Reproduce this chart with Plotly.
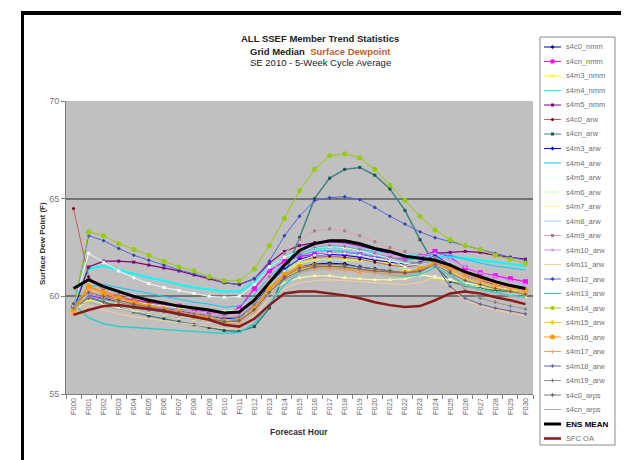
import plotly.graph_objects as go

# ---------------- data ----------------
categories = ["F000", "F001", "F002", "F003", "F004", "F005", "F006", "F007", "F008", "F009",
              "F010", "F011", "F012", "F013", "F014", "F015", "F016", "F017", "F018", "F019",
              "F020", "F021", "F022", "F023", "F024", "F025", "F026", "F027", "F028", "F029", "F030"]

s4c0_nmm = [59.4, 60.1, 59.9, 59.75, 59.6, 59.5, 59.4, 59.25, 59.1, 59.0, 58.85, 58.9, 59.5, 60.4, 61.1,
            61.5, 61.65, 61.7, 61.65, 61.5, 61.4, 61.3, 61.2, 61.3, 61.7, 61.4, 61.0, 60.75, 60.55, 60.4, 60.25]
s4cn_nmm = [59.4, 60.0, 60.0, 59.9, 59.8, 59.7, 59.6, 59.5, 59.3, 59.2, 59.05, 59.4, 60.4, 61.3, 61.8,
            62.05, 62.15, 62.2, 62.2, 62.15, 62.0, 61.95, 61.95, 62.05, 62.3, 62.0, 61.45, 61.2, 61.05, 60.9, 60.75]
s4m3_nmm = [59.3, 59.8, 59.75, 59.65, 59.5, 59.4, 59.3, 59.15, 59.0, 58.9, 58.75, 58.8, 59.5, 60.6, 61.3,
            61.7, 61.85, 61.85, 61.85, 61.85, 61.8, 61.7, 61.4, 61.15, 60.95, 60.8, 60.6, 60.45, 60.35, 60.25, 60.15]
s4m4_nmm = [59.5, 61.4, 61.55, 61.35, 61.15, 60.95, 60.8, 60.6, 60.45, 60.35, 60.25, 60.25, 60.7, 61.5, 62.0,
            62.3, 62.45, 62.5, 62.5, 62.4, 62.3, 62.2, 62.1, 62.05, 62.0, 62.0, 61.95, 61.85, 61.75, 61.65, 61.55]
s4m5_nmm = [59.3, 61.5, 61.8, 61.8, 61.75, 61.6, 61.45, 61.3, 61.1, 60.9, 60.7, 60.6, 60.9, 61.7, 62.3,
            62.6, 62.75, 62.8, 62.75, 62.6, 62.4, 62.2, 62.05, 62.0, 62.2, 62.25, 62.3, 62.25, 62.1, 62.0, 61.9]
s4c0_arw = [64.5, 61.0, 60.3, 60.0, 59.8, 59.65, 59.5, 59.35, 59.2, 59.05, 58.9, 58.95, 59.5, 60.5, 61.3,
            61.8, 62.0, 62.05, 62.0, 61.9, 61.75, 61.6, 61.5, 61.6, 61.9, 61.6, 61.2, 60.95, 60.7, 60.5, 60.3]
s4cn_arw = [59.6, 60.0, 59.7, 59.45, 59.2, 59.0, 58.85, 58.7, 58.55, 58.4, 58.25, 58.2, 58.45, 59.4, 61.1,
            63.0, 65.0, 66.05, 66.5, 66.6, 66.2, 65.5, 64.4, 62.9, 61.6, 60.75, 60.55, 60.4, 60.3, 60.25, 60.2]
s4m3_arw = [59.3, 60.0, 59.85, 59.7, 59.55, 59.45, 59.35, 59.2, 59.1, 58.95, 58.8, 58.85, 59.5, 60.6, 61.4,
            61.9, 62.1, 62.15, 62.1, 62.0, 61.85, 61.75, 61.65, 61.75, 62.1, 61.6, 61.1, 60.85, 60.6, 60.45, 60.3]
s4m4_arw = [59.5, 60.5, 60.6, 60.45, 60.3, 60.15, 60.0, 59.85, 59.7, 59.6, 59.45, 59.5, 60.1, 61.0, 61.7,
            62.1, 62.3, 62.35, 62.3, 62.2, 62.05, 61.95, 61.85, 61.95, 62.2, 62.1, 61.9, 61.7, 61.55, 61.45, 61.35]
s4m5_arw = [59.5, 62.2, 61.75, 61.3, 60.95, 60.65, 60.45, 60.3, 60.15, 60.0, 59.95, 60.0, 60.6, 61.5, 62.0,
            62.3, 62.5, 62.55, 62.5, 62.35, 62.15, 61.95, 61.5, 61.1, 61.0, 60.85, 60.7, 60.55, 60.45, 60.35, 60.25]
s4m6_arw = [59.2, 60.2, 60.0, 59.85, 59.7, 59.6, 59.5, 59.4, 59.35, 59.3, 59.25, 59.3, 59.8, 60.6, 61.3,
            61.8, 62.1, 62.2, 62.2, 62.1, 61.95, 61.8, 61.7, 61.6, 61.9, 61.4, 61.0, 60.75, 60.55, 60.4, 60.25]
s4m7_arw = [59.2, 59.9, 59.6, 59.4, 59.25, 59.1, 59.0, 58.9, 58.8, 58.7, 58.6, 58.7, 59.3, 60.2, 60.7,
            60.95, 61.05, 61.05, 60.95, 60.9, 60.85, 60.85, 60.9, 61.1, 61.6, 61.1, 60.6, 60.35, 60.2, 60.05, 59.95]
s4m8_arw = [59.3, 60.0, 59.8, 59.65, 59.5, 59.4, 59.3, 59.15, 59.05, 58.95, 58.8, 58.85, 59.5, 60.5, 61.2,
            61.6, 61.8, 61.85, 61.8, 61.7, 61.55, 61.45, 61.4, 61.5, 61.8, 61.5, 61.1, 60.85, 60.65, 60.45, 60.3]
s4m9_arw = [59.4, 60.4, 60.25, 60.1, 59.95, 59.8, 59.65, 59.5, 59.35, 59.2, 59.05, 59.1, 59.8, 61.0, 62.2,
            62.9, 63.35, 63.45, 63.35, 63.1, 62.8, 62.5, 62.3, 62.1, 62.0, 61.6, 61.2, 60.95, 60.7, 60.5, 60.35]
s4m10_arw = [59.3, 60.1, 59.95, 59.8, 59.65, 59.55, 59.45, 59.3, 59.2, 59.05, 58.95, 59.0, 59.7, 60.8, 61.7,
             62.3, 62.6, 62.7, 62.65, 62.5, 62.3, 62.15, 62.0, 62.05, 62.2, 61.9, 61.5, 61.2, 61.0, 60.8, 60.6]
s4m11_arw = [59.0, 59.5, 59.3, 59.1, 58.95, 58.85, 58.75, 58.65, 58.55, 58.45, 58.35, 58.4, 59.0, 59.9, 60.4,
             60.7, 60.8, 60.85, 60.8, 60.75, 60.7, 60.65, 60.6, 60.7, 61.0, 60.4, 59.8, 59.5, 59.3, 59.15, 59.0]
s4m12_arw = [59.4, 63.1, 62.85, 62.45, 62.1, 61.85, 61.6, 61.35, 61.15, 60.95, 60.7, 60.6, 60.9, 61.8, 63.1,
             64.1, 64.9, 65.05, 65.1, 64.95, 64.55, 64.1, 63.7, 63.3, 63.0, 62.8, 62.6, 62.4, 62.2, 62.0, 61.85]
s4m13_arw = [59.6, 58.9, 58.6, 58.45, 58.4, 58.35, 58.3, 58.25, 58.2, 58.15, 58.1, 58.15, 58.6, 59.6, 60.6,
             61.2, 61.45, 61.5, 61.45, 61.35, 61.2, 61.1, 61.0, 61.1, 61.5, 61.1, 60.6, 60.35, 60.2, 60.05, 59.95]
s4m14_arw = [59.3, 63.3, 63.1, 62.7, 62.4, 62.1, 61.8, 61.5, 61.3, 61.0, 60.8, 60.8, 61.4, 62.6, 64.0,
             65.4, 66.5, 67.2, 67.3, 67.1, 66.5, 65.7, 64.9, 64.1, 63.4, 62.9, 62.6, 62.4, 62.1, 61.9, 61.7]
s4m15_arw = [59.2, 60.3, 60.0, 59.75, 59.6, 59.45, 59.3, 59.15, 59.0, 58.85, 58.7, 58.75, 59.4, 60.4, 61.0,
             61.35, 61.5, 61.5, 61.45, 61.35, 61.3, 61.25, 61.2, 61.35, 61.75, 61.3, 60.9, 60.65, 60.45, 60.3, 60.15]
s4m16_arw = [59.3, 60.5, 60.2, 59.9, 59.7, 59.5, 59.35, 59.2, 59.05, 58.9, 58.7, 58.75, 59.35, 60.4, 61.1,
             61.5, 61.55, 61.5, 61.45, 61.3, 61.3, 61.25, 61.2, 61.4, 61.7, 61.45, 61.2, 60.9, 60.65, 60.5, 60.3]
s4m17_arw = [59.1, 60.3, 60.0, 59.75, 59.55, 59.4, 59.25, 59.1, 58.95, 58.8, 58.6, 58.65, 59.2, 60.2, 60.9,
             61.3, 61.4, 61.4, 61.35, 61.25, 61.2, 61.15, 61.1, 61.3, 61.65, 61.35, 61.0, 60.75, 60.55, 60.4, 60.2]
s4m18_arw = [59.4, 59.9, 59.7, 59.55, 59.4, 59.3, 59.2, 59.05, 58.95, 58.85, 58.7, 58.75, 59.3, 60.2, 60.9,
             61.3, 61.5, 61.55, 61.5, 61.4, 61.3, 61.25, 61.2, 61.3, 61.6, 60.5, 59.9, 59.6, 59.4, 59.25, 59.1]
s4m19_arw = [59.4, 60.0, 59.85, 59.7, 59.55, 59.45, 59.35, 59.2, 59.1, 59.0, 58.9, 58.95, 59.6, 60.7, 61.6,
             62.2, 62.5, 62.6, 62.55, 62.4, 62.2, 62.0, 61.8, 61.7, 61.8, 61.3, 60.3, 59.9, 59.7, 59.5, 59.35]
s4c0_arps = [59.6, 60.2, 60.0, 59.8, 59.6, 59.45, 59.3, 59.15, 59.0, 58.85, 58.7, 58.75, 59.3, 60.2, 61.0,
             61.45, 61.6, 61.65, 61.6, 61.5, 61.4, 61.3, 61.2, 61.25, 61.6, 61.2, 60.8, 60.6, 60.4, 60.25, 60.1]
s4cn_arps = [59.5, 59.7, 59.5, 59.35, 59.2, 59.1, 59.0, 58.9, 58.8, 58.7, 58.6, 58.65, 59.2, 60.1, 60.8,
             61.2, 61.35, 61.4, 61.35, 61.3, 61.2, 61.1, 61.05, 61.2, 61.6, 61.0, 60.5, 60.3, 60.15, 60.0, 59.9]
ens_mean = [60.4, 60.85, 60.5, 60.25, 60.0, 59.8, 59.65, 59.5, 59.4, 59.3, 59.15, 59.2, 59.8, 60.7, 61.6,
            62.35, 62.7, 62.85, 62.85, 62.7, 62.45, 62.3, 62.05, 61.95, 61.85, 61.6, 61.25, 61.0, 60.75, 60.55, 60.4]
sfc_oa = [59.05, 59.3, 59.5, 59.55, 59.45, 59.35, 59.25, 59.1, 58.95, 58.8, 58.55, 58.45, 58.85, 59.55, 60.15,
          60.25, 60.25, 60.15, 60.05, 59.9, 59.7, 59.55, 59.45, 59.5, 59.8, 60.15, 60.25, 60.15, 59.95, 59.8, 59.6]

series_names = ["s4c0_nmm", "s4cn_nmm", "s4m3_nmm", "s4m4_nmm", "s4m5_nmm", "s4c0_arw", "s4cn_arw",
                "s4m3_arw", "s4m4_arw", "s4m5_arw", "s4m6_arw", "s4m7_arw", "s4m8_arw", "s4m9_arw",
                "s4m10_arw", "s4m11_arw", "s4m12_arw", "s4m13_arw", "s4m14_arw", "s4m15_arw",
                "s4m16_arw", "s4m17_arw", "s4m18_arw", "s4m19_arw", "s4c0_arps", "s4cn_arps",
                "ENS MEAN", "SFC OA"]
series_values = [s4c0_nmm, s4cn_nmm, s4m3_nmm, s4m4_nmm, s4m5_nmm, s4c0_arw, s4cn_arw,
                 s4m3_arw, s4m4_arw, s4m5_arw, s4m6_arw, s4m7_arw, s4m8_arw, s4m9_arw,
                 s4m10_arw, s4m11_arw, s4m12_arw, s4m13_arw, s4m14_arw, s4m15_arw,
                 s4m16_arw, s4m17_arw, s4m18_arw, s4m19_arw, s4c0_arps, s4cn_arps,
                 ens_mean, sfc_oa]

for n, v in zip(series_names, series_values):
    assert len(v) == len(categories), n

# ---------------- styles ----------------
# (line colour, line width, marker symbol or None, marker size, marker colour)
styles = {
    "s4c0_nmm": ("#000080", 1, "diamond", 4, "#000080"),
    "s4cn_nmm": ("#FF00FF", 1.2, "square", 5, "#FF00FF"),
    "s4m3_nmm": ("#FFFF00", 1.2, "triangle-up", 5, "#FFFF00"),
    "s4m4_nmm": ("#00FFFF", 2, None, 0, "#00FFFF"),
    "s4m5_nmm": ("#800080", 1.2, "square", 3, "#800080"),
    "s4c0_arw": ("#C06060", 1, "circle", 3, "#800000"),
    "s4cn_arw": ("#3F8080", 1.5, "square", 3, "#205050"),
    "s4m3_arw": ("#0000FF", 1, "diamond", 3, "#0000FF"),
    "s4m4_arw": ("#00CCFF", 1, None, 0, "#00CCFF"),
    "s4m5_arw": ("#E8FFFF", 1, "square", 3, "#FFFFFF"),
    "s4m6_arw": ("#CCFFCC", 1, "circle", 3, "#CCFFCC"),
    "s4m7_arw": ("#FFFF99", 1, "triangle-up", 4, "#FFFF99"),
    "s4m8_arw": ("#99CCFF", 1, None, 0, "#99CCFF"),
    "s4m9_arw": ("#E0A0B8", 1, "square", 3, "#A08090"),
    "s4m10_arw": ("#CC99FF", 1, "circle", 3, "#CC99FF"),
    "s4m11_arw": ("#FFCC99", 1, None, 0, "#FFCC99"),
    "s4m12_arw": ("#5566E0", 1, "diamond", 3, "#3344AA"),
    "s4m13_arw": ("#33CCCC", 1.5, None, 0, "#33CCCC"),
    "s4m14_arw": ("#99CC00", 1, "circle", 5, "#99CC00"),
    "s4m15_arw": ("#FFCC00", 1.2, "circle", 5, "#FFCC00"),
    "s4m16_arw": ("#FF9900", 2, "circle", 6, "#FF9900"),
    "s4m17_arw": ("#FF9966", 1, "cross", 4, "#FF9966"),
    "s4m18_arw": ("#666699", 1, "cross", 3, "#666699"),
    "s4m19_arw": ("#969696", 1, "cross", 3, "#808080"),
    "s4c0_arps": ("#7A7A7A", 1, "cross", 3, "#606060"),
    "s4cn_arps": ("#ABABAB", 1, None, 0, "#ABABAB"),
    "ENS MEAN": ("#000000", 3, None, 0, "#000000"),
    "SFC OA": ("#8B1A1A", 2.5, None, 0, "#8B1A1A"),
}

W, H = 629, 460
FONT = "Liberation Sans, Arial, sans-serif"

def px_x(p):
    return p / W

def px_y(p):
    return 1 - p / H

fig = go.Figure()

for name, vals in zip(series_names, series_values):
    col, lw, sym, ms, mcol = styles[name]
    if sym:
        fig.add_trace(go.Scatter(x=categories, y=vals, mode="lines+markers", name=name,
                                 line=dict(color=col, width=lw),
                                 marker=dict(symbol=sym, size=ms, color=mcol, line=dict(width=0)),
                                 xaxis="x", yaxis="y", hoverinfo="skip"))
    else:
        fig.add_trace(go.Scatter(x=categories, y=vals, mode="lines", name=name,
                                 line=dict(color=col, width=lw),
                                 xaxis="x", yaxis="y", hoverinfo="skip"))

# ---------------- manual legend (on its own pixel-mapped axes) ----------------
LEG_X0, LEG_X1, LEG_Y0, LEG_Y1 = 532, 607, 29, 437
annotations = []
for i, name in enumerate(series_names):
    col, lw, sym, ms, mcol = styles[name]
    yy = 39 + 14.5 * i
    if name == "ENS MEAN":
        lwl = 3
    elif name == "SFC OA":
        lwl = 2.5
    else:
        lwl = 1
    fig.add_trace(go.Scatter(x=[536, 553], y=[yy, yy], mode="lines",
                             line=dict(color=col, width=lwl), xaxis="x2", yaxis="y2",
                             hoverinfo="skip", showlegend=False))
    if sym:
        fig.add_trace(go.Scatter(x=[544.5], y=[yy], mode="markers",
                                 marker=dict(symbol=sym, size=max(3, ms - 1), color=mcol,
                                             line=dict(width=0)),
                                 xaxis="x2", yaxis="y2", hoverinfo="skip", showlegend=False))
    if name == "ENS MEAN":
        txt, fc, fs = "<b>ENS MEAN</b>", "#000000", 8
    else:
        txt, fc, fs = name, "#707070", 7.5
    annotations.append(dict(x=556, y=yy, xref="x2", yref="y2", text=txt, showarrow=False,
                            xanchor="left", yanchor="middle",
                            font=dict(family=FONT, size=fs, color=fc)))

# ---------------- titles ----------------
tfont = dict(family=FONT, size=9.5, color="#222222")
annotations += [
    dict(x=px_x(312), y=px_y(31), xref="paper", yref="paper", showarrow=False,
         text="<b>ALL SSEF Member Trend Statistics</b>", font=tfont, xanchor="center", yanchor="middle"),
    dict(x=px_x(312), y=px_y(43), xref="paper", yref="paper", showarrow=False,
         text="<b>Grid Median  <span style='color:#C0602A'>Surface Dewpoint</span></b>",
         font=tfont, xanchor="center", yanchor="middle"),
    dict(x=px_x(312), y=px_y(55), xref="paper", yref="paper", showarrow=False,
         text="SE 2010 - 5-Week Cycle Average", font=dict(family=FONT, size=9.5, color="#222222"),
         xanchor="center", yanchor="middle"),
    dict(x=px_x(34), y=px_y(236), xref="paper", yref="paper", showarrow=False, textangle=-90,
         text="<b>Surface Dew Point (F)</b>", font=dict(family=FONT, size=8, color="#333333"),
         xanchor="center", yanchor="middle"),
    dict(x=px_x(291), y=px_y(424), xref="paper", yref="paper", showarrow=False,
         text="<b>Forecast Hour</b>", font=dict(family=FONT, size=8.5, color="#333333"),
         xanchor="center", yanchor="middle"),
]

shapes = [
    # plot area background
    dict(type="rect", xref="x domain", yref="y domain", x0=0, x1=1, y0=0, y1=1,
         fillcolor="#C0C0C0", line=dict(width=0), layer="below"),
    # legend box
    dict(type="rect", xref="x2 domain", yref="y2 domain", x0=0, x1=1, y0=0, y1=1,
         fillcolor="#FFFFFF", line=dict(color="#8C8C8C", width=1), layer="below"),
    # outer black frame (top and left)
    dict(type="rect", xref="paper", yref="paper", x0=px_x(13), x1=1, y0=px_y(7), y1=px_y(3),
         fillcolor="#000000", line=dict(width=0)),
    dict(type="rect", xref="paper", yref="paper", x0=px_x(13), x1=px_x(16), y0=0, y1=px_y(3),
         fillcolor="#000000", line=dict(width=0)),
]

fig.update_layout(
    template="none",
    width=W, height=H,
    margin=dict(l=0, r=0, t=0, b=0, pad=0),
    paper_bgcolor="#FFFFFF", plot_bgcolor="rgba(0,0,0,0)",
    showlegend=False,
    hovermode=False,
    font=dict(family=FONT),
    xaxis=dict(domain=[px_x(58), px_x(525)], type="category", range=[-0.5, 30.5],
               categoryorder="array", categoryarray=categories,
               tickangle=-90, ticks="outside", tickson="boundaries", ticklen=4,
               tickcolor="#808080", tickwidth=1, showline=True, linecolor="#808080", linewidth=1,
               showgrid=False, zeroline=False, automargin=False,
               tickfont=dict(family=FONT, size=7.5, color="#666666")),
    yaxis=dict(domain=[px_y(386), px_y(93)], range=[55, 70], dtick=5, tick0=55,
               ticks="outside", ticklen=4, tickcolor="#808080", tickwidth=1,
               showline=True, linecolor="#808080", linewidth=1,
               showgrid=True, gridcolor="#737373", gridwidth=2, zeroline=False, automargin=False,
               tickfont=dict(family=FONT, size=9, color="#777777")),
    xaxis2=dict(domain=[px_x(LEG_X0), px_x(LEG_X1)], range=[LEG_X0, LEG_X1], visible=False,
                anchor="y2", fixedrange=True),
    yaxis2=dict(domain=[px_y(LEG_Y1), px_y(LEG_Y0)], range=[LEG_Y1, LEG_Y0], visible=False,
                anchor="x2", fixedrange=True),
    annotations=annotations,
    shapes=shapes,
)

fig.write_html("out.html", config={"displayModeBar": False})
